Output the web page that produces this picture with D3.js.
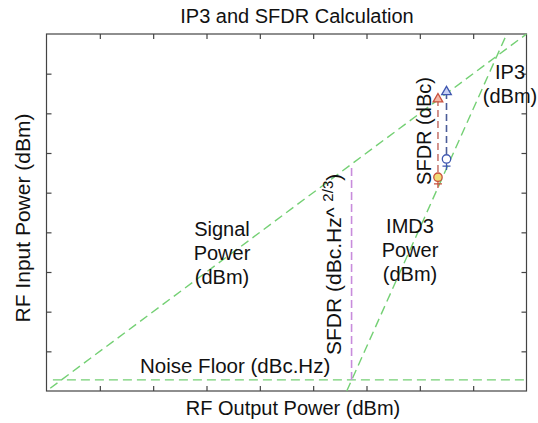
<!DOCTYPE html>
<html>
<head>
<meta charset="utf-8">
<script src="https://cdn.jsdelivr.net/npm/d3@7"></script>
<style>
  body { margin: 0; background: #fff; }
  svg text { font-family: "Liberation Sans", Arial, sans-serif; fill: #111; }
</style>
</head>
<body>
<svg id="chart" width="538" height="423"></svg>
<script>
// data, in axis units (ticks every 1 unit)
const ticks = [1, 2, 3, 4, 5, 6, 7, 8]
const signalX = [0.07, 9.0]
const signalY = [0.07, 9.0]
const imd3X = [5.63, 8.63]
const imd3Y = [0, 9.0]
const noiseX = [0.12, 9.0]
const noiseY = [0.28, 0.28]
const sfdrX = [5.72, 5.72]
const sfdrY = [0.28, 5.72]
// marker pairs: triangle on signal, circle/plus near IMD3
const markX = [7.34, 7.50]
const markTri = [7.36, 7.54]
const markCirc = [5.39, 5.85]
const markPlus = [5.22, 5.67]
const markCol = ['#c8503c', '#4058b0']
const markFill = ['#f4b8a8', '#c8d0f4']
const circFill = ['#f0dc78', '#ffffff']
const pairDash = ['#c87a72', '#4a5c98']

let pLeft = 46.5, pRight = 526.5, pTop = 34, pBottom = 391

let svg = d3.select('#chart')
let x = d3.scaleLinear().domain([0, 9]).range([pLeft, pRight])
let y = d3.scaleLinear().domain([0, 9]).range([pBottom, pTop])

// ticks pointing inward on all four sides
svg.append('g').attr('transform', 'translate(0,' + pBottom + ')')
  .call(d3.axisBottom(x).tickValues(ticks).tickSize(-5).tickFormat(''))
svg.append('g').attr('transform', 'translate(0,' + pTop + ')')
  .call(d3.axisTop(x).tickValues(ticks).tickSize(-5).tickFormat(''))
svg.append('g').attr('transform', 'translate(' + pLeft + ',0)')
  .call(d3.axisLeft(y).tickValues(ticks).tickSize(-5).tickFormat(''))
svg.append('g').attr('transform', 'translate(' + pRight + ',0)')
  .call(d3.axisRight(y).tickValues(ticks).tickSize(-5).tickFormat(''))
svg.selectAll('.domain').remove()
svg.selectAll('.tick line').attr('stroke', '#444').attr('stroke-width', 1.2)

svg.append('rect')
  .attr('x', pLeft).attr('y', pTop)
  .attr('width', pRight - pLeft).attr('height', pBottom - pTop)
  .attr('fill', 'none').attr('stroke', '#444').attr('stroke-width', 1.2)

let line = d3.line().x(d => x(d[0])).y(d => y(d[1]))
let green = '#74d074'
let greenLines = [
  d3.zip(signalX, signalY),
  d3.zip(imd3X, imd3Y),
  d3.zip(noiseX, noiseY)
]
svg.selectAll('.gl').data(greenLines).enter().append('path')
  .attr('d', line)
  .attr('fill', 'none').attr('stroke', green)
  .attr('stroke-width', 1.4).attr('stroke-dasharray', '9,5')

svg.append('path').attr('d', line(d3.zip(sfdrX, sfdrY)))
  .attr('fill', 'none').attr('stroke', '#c88cdc')
  .attr('stroke-width', 1.6).attr('stroke-dasharray', '8,4')

// markers
markX.forEach((mx, i) => {
  svg.append('path')
    .attr('d', line([[mx, markTri[i]], [mx, markCirc[i]]]))
    .attr('stroke', pairDash[i]).attr('stroke-width', 1.6)
    .attr('stroke-dasharray', '7,4').attr('fill', 'none')
  let px = x(mx)
  // plus
  svg.append('path')
    .attr('d', 'M' + (px - 4) + ',' + y(markPlus[i]) + 'h8M' + px + ',' + (y(markCirc[i]) + 4) + 'V' + (y(markPlus[i]) + 4))
    .attr('stroke', markCol[i]).attr('stroke-width', 1.3)
  svg.append('circle')
    .attr('cx', px).attr('cy', y(markCirc[i])).attr('r', 4.2)
    .attr('fill', circFill[i]).attr('stroke', markCol[i]).attr('stroke-width', 1.3)
  svg.append('path')
    .attr('d', d3.symbol(d3.symbolTriangle, 40)())
    .attr('transform', 'translate(' + px + ',' + y(markTri[i]) + ')')
    .attr('fill', markFill[i]).attr('stroke', markCol[i]).attr('stroke-width', 1.3)
})

// texts
svg.append('text').attr('x', 297).attr('y', 23).attr('text-anchor', 'middle')
  .style('font-size', '20px').text('IP3 and SFDR Calculation')
svg.append('text').attr('x', 293).attr('y', 415).attr('text-anchor', 'middle')
  .style('font-size', '20px').text('RF Output Power (dBm)')
svg.append('text').attr('transform', 'translate(30,218) rotate(-90)').attr('text-anchor', 'middle')
  .style('font-size', '21px').text('RF Input Power (dBm)')

let multi = (cx, y0, lines) => {
  let t = svg.append('text').attr('text-anchor', 'middle').style('font-size', '20px')
  lines.forEach((s, k) => t.append('tspan').attr('x', cx).attr('y', y0 + k * 24).text(s))
}
multi(222, 236, ['Signal', 'Power', '(dBm)'])
multi(410, 233, ['IMD3', 'Power', '(dBm)'])
multi(510, 79, ['IP3', '(dBm)'])

svg.append('text').attr('x', 140).attr('y', 373)
  .style('font-size', '20.5px').text('Noise Floor (dBc.Hz)')

let sf = svg.append('text').attr('transform', 'translate(341,355) rotate(-90)')
  .style('font-size', '21px')
sf.append('tspan').text('SFDR (dBc.Hz^ ')
sf.append('tspan').attr('dy', -8).style('font-size', '15px').text('2/3')
sf.append('tspan').attr('dy', 8).text(')')

svg.append('text').attr('transform', 'translate(431,131) rotate(-90)').attr('text-anchor', 'middle')
  .style('font-size', '20px').text('SFDR (dBc)')
</script>
</body>
</html>
